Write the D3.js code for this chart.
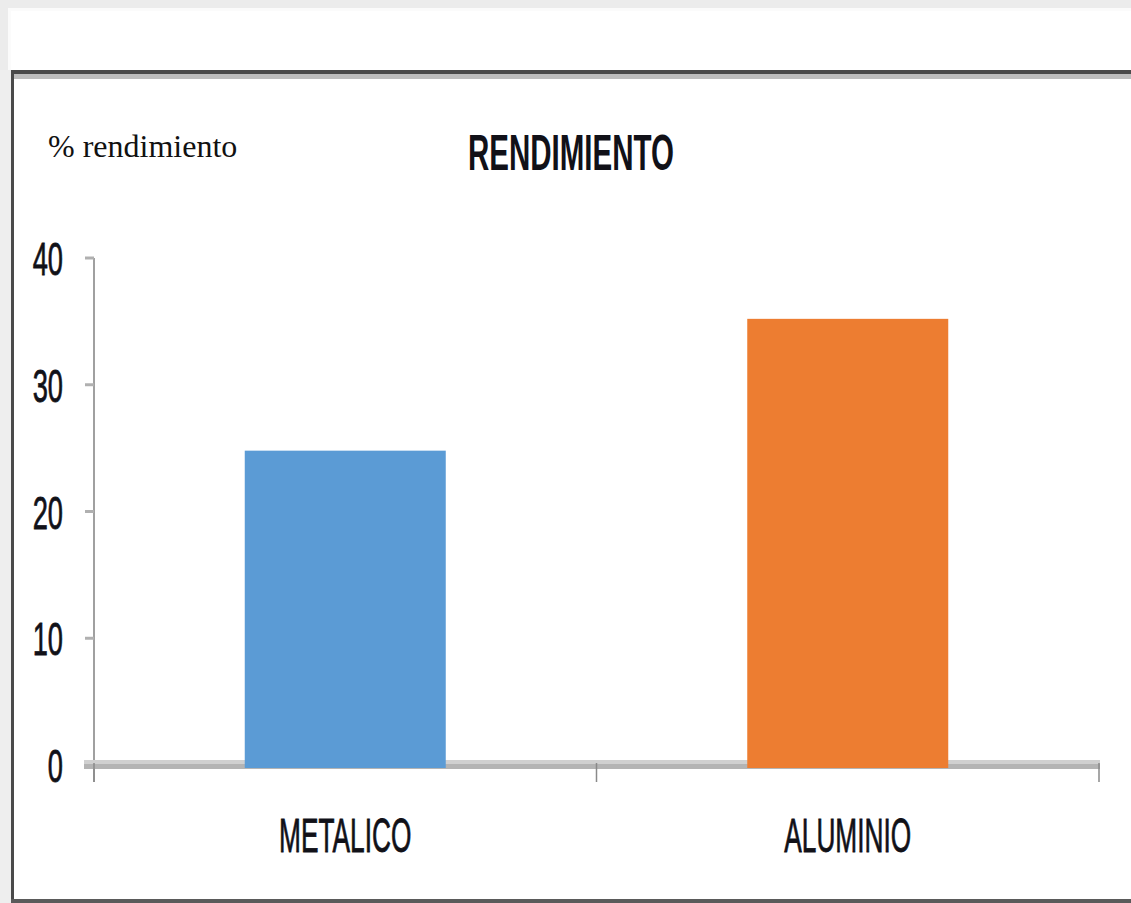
<!DOCTYPE html>
<html>
<head>
<meta charset="utf-8">
<script src="https://cdn.jsdelivr.net/npm/d3@7"></script>
<style>
  html, body { margin: 0; padding: 0; background: #ffffff; }
  svg { display: block; }
</style>
</head>
<body>
<svg id="chart" width="1131" height="903"></svg>
<script>
// Yield per material
const categories = ["METALICO", "ALUMINIO"];
const values = [24.8, 35.2];
const barColors = ["#5b9bd5", "#ed7d31"];
const yTicks = [0, 10, 20, 30, 40];
const titleText = "RENDIMIENTO";
const yUnitText = "% rendimiento";

const svg = d3.select("#chart");
const W = 1131, H = 903;

// Page / card backdrop
svg.append("rect").attr("x", 0).attr("y", 0).attr("width", W).attr("height", H).attr("fill", "#ececec");
svg.append("rect").attr("x", 8).attr("y", 8).attr("width", W - 8).attr("height", H - 8).attr("fill", "#fbfbfb");
svg.append("rect").attr("x", 11).attr("y", 11).attr("width", W - 11).attr("height", H - 11).attr("fill", "#ffffff");

// Chart frame
svg.append("rect").attr("x", 11).attr("y", 74).attr("width", W - 11).attr("height", 5).attr("fill", "#bdbdbd");
svg.append("rect").attr("x", 11).attr("y", 70).attr("width", W - 11).attr("height", 4).attr("fill", "#4a4a4a");
svg.append("rect").attr("x", 0).attr("y", 70).attr("width", 11).attr("height", H - 70).attr("fill", "#eeeeee");
svg.append("rect").attr("x", 11).attr("y", 70).attr("width", 3).attr("height", H - 70).attr("fill", "#4a4a4a");
svg.append("rect").attr("x", 11).attr("y", 899).attr("width", W - 11).attr("height", 4).attr("fill", "#5a5a5a");

// Scales
const plotLeft = 94, plotRight = 1099;
const y = d3.scaleLinear().domain([0, 40]).range([765, 258]);
const x = d3.scaleBand().domain(categories).range([plotLeft, plotRight]).paddingInner(0.6).paddingOuter(0.3);
const xCat = d3.scaleBand().domain(categories).range([plotLeft, plotRight]);

// Condensed text helper
function ctext(g, txt, px, py, size, sx, anchor, weight, family) {
  return g.append("text")
    .attr("transform", `translate(${px},${py}) scale(${sx},1)`)
    .attr("text-anchor", anchor)
    .attr("font-family", family || "'Liberation Sans', Arial, sans-serif")
    .attr("font-size", size)
    .attr("font-weight", weight || "normal")
    .attr("fill", "#111118")
    .attr("stroke", "#111118")
    .attr("stroke-width", weight === "bold" ? 0 : 0.8)
    .text(txt);
}

// Y axis line and ticks
const axisG = svg.append("g");
axisG.append("line")
  .attr("x1", plotLeft).attr("x2", plotLeft)
  .attr("y1", y(40)).attr("y2", 782)
  .attr("stroke", "#a0a0a0").attr("stroke-width", 2);
axisG.selectAll(".ytick").data(yTicks).join("line")
  .attr("class", "ytick")
  .attr("x1", 85).attr("x2", plotLeft)
  .attr("y1", d => y(d)).attr("y2", d => y(d))
  .attr("stroke", "#b0b0b0").attr("stroke-width", 3);
yTicks.forEach(t => ctext(axisG, String(t), 63, y(t) + 17, 47, 0.58, "end"));

// X axis band
axisG.append("rect").attr("x", 84).attr("y", 760).attr("width", plotRight - 84 + 1).attr("height", 4)
  .attr("fill", "#d0d0d0");
axisG.append("rect").attr("x", 84).attr("y", 764).attr("width", plotRight - 84 + 1).attr("height", 5)
  .attr("fill", "#b4b4b4");

// Bars
svg.selectAll(".bar").data(values).join("rect")
  .attr("class", "bar")
  .attr("x", (d, i) => x(categories[i]))
  .attr("width", x.bandwidth())
  .attr("y", d => y(d))
  .attr("height", d => y(0) - y(d) + 3)
  .attr("fill", (d, i) => barColors[i]);

// X ticks
const xTickPos = [plotLeft, ...categories.map(c => xCat(c) + xCat.bandwidth())];
axisG.selectAll(".xtick").data(xTickPos).join("line")
  .attr("class", "xtick")
  .attr("x1", d => d).attr("x2", d => d)
  .attr("y1", 763).attr("y2", 782)
  .attr("stroke", "#8a8a8a").attr("stroke-width", 1.5);

// Category labels
categories.forEach(c => ctext(svg, c, xCat(c) + xCat.bandwidth() / 2, 852, 49, 0.536, "middle"));

// Title and unit label
ctext(svg, titleText, 571, 170, 50, 0.59, "middle", "bold");
svg.append("text")
  .attr("x", 48).attr("y", 157)
  .attr("font-family", "'Liberation Serif', 'Times New Roman', serif")
  .attr("font-size", 32)
  .attr("fill", "#111111")
  .text(yUnitText);
</script>
</body>
</html>
